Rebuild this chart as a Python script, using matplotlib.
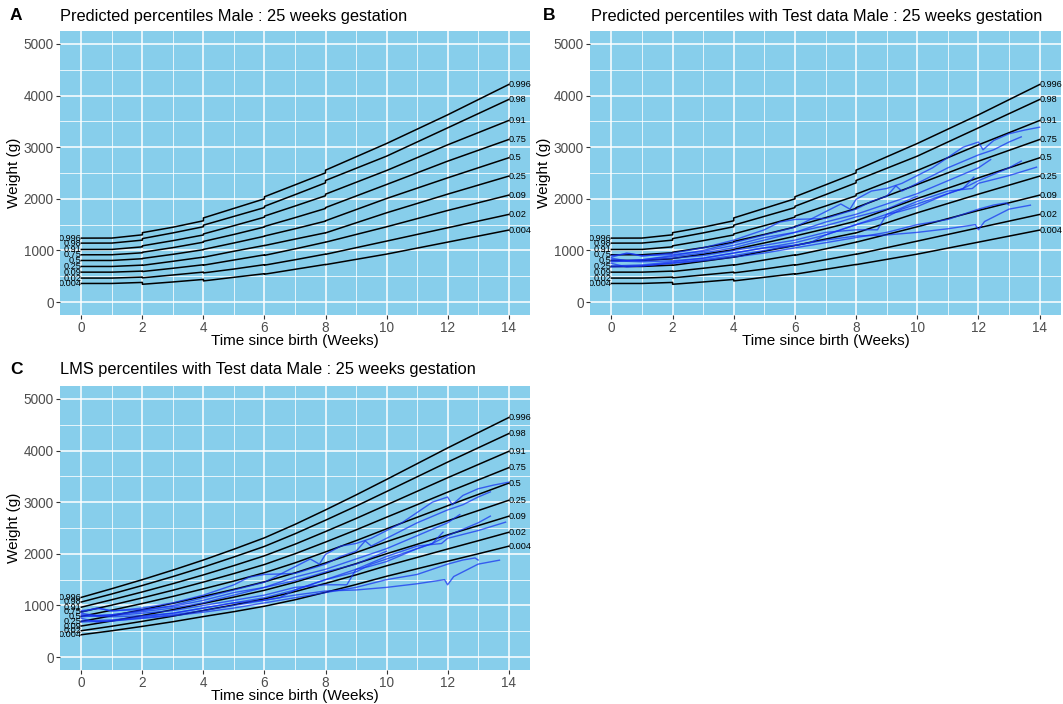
import matplotlib
matplotlib.use("Agg")
import matplotlib.pyplot as plt
from matplotlib.ticker import MultipleLocator

plt.rcParams["font.family"] = ["Liberation Sans", "DejaVu Sans"]

# ---------------- data ----------------
pct_labels = ["0.996", "0.98", "0.91", "0.75", "0.5", "0.25", "0.09", "0.02", "0.004"]

# predicted percentile curves (panels A and B); repeated weeks mark the small steps
pred_weeks = [0, 1, 2, 2, 3, 4, 4, 5, 6, 6, 7, 8, 8, 10, 12, 14]
pred_996 = [1239, 1240, 1303, 1345, 1450, 1575, 1630, 1815, 2000, 2040, 2270, 2503, 2555, 3071, 3626, 4213]
pred_98 = [1142, 1143, 1200, 1230, 1340, 1460, 1490, 1660, 1830, 1855, 2080, 2310, 2355, 2826, 3374, 3923]
pred_91 = [1019, 1020, 1070, 1090, 1190, 1300, 1320, 1480, 1645, 1665, 1860, 2060, 2090, 2548, 3045, 3516]
pred_75 = [916, 917, 955, 965, 1055, 1160, 1175, 1310, 1455, 1465, 1635, 1813, 1830, 2277, 2729, 3148]
pred_50 = [806, 806, 840, 845, 925, 1015, 1020, 1145, 1275, 1280, 1420, 1568, 1575, 2006, 2406, 2794]
pred_25 = [690, 690, 716, 712, 790, 871, 868, 985, 1097, 1095, 1220, 1342, 1340, 1729, 2090, 2439]
pred_09 = [580, 580, 600, 592, 655, 723, 715, 815, 915, 905, 1030, 1161, 1160, 1458, 1774, 2071]
pred_02 = [465, 465, 484, 470, 525, 581, 565, 640, 725, 715, 820, 929, 925, 1181, 1439, 1697]
pred_004 = [361, 361, 381, 345, 390, 439, 410, 480, 550, 540, 635, 729, 725, 929, 1161, 1394]

# LMS percentile curves (panel C)
lms_weeks = [0, 1, 2, 3, 4, 5, 6, 7, 8, 9, 10, 11, 12, 13, 14]
lms_996 = [1157, 1325, 1500, 1685, 1880, 2090, 2310, 2570, 2850, 3140, 3440, 3745, 4050, 4345, 4638]
lms_98 = [1067, 1223, 1387, 1560, 1743, 1939, 2144, 2388, 2651, 2923, 3206, 3491, 3776, 4052, 4327]
lms_91 = [967, 1111, 1262, 1422, 1592, 1772, 1962, 2186, 2431, 2684, 2947, 3210, 3473, 3728, 3983]
lms_75 = [875, 1007, 1147, 1295, 1453, 1618, 1793, 2001, 2228, 2463, 2709, 2951, 3194, 3430, 3667]
lms_50 = [788, 909, 1038, 1175, 1322, 1473, 1634, 1825, 2037, 2255, 2484, 2707, 2931, 3149, 3368]
lms_25 = [691, 801, 918, 1042, 1176, 1312, 1458, 1631, 1824, 2024, 2234, 2436, 2639, 2837, 3036]
lms_09 = [602, 700, 806, 918, 1040, 1162, 1294, 1450, 1627, 1809, 2002, 2184, 2367, 2546, 2727]
lms_02 = [511, 598, 693, 793, 903, 1011, 1128, 1268, 1427, 1592, 1768, 1930, 2093, 2253, 2416]
lms_004 = [433, 510, 595, 685, 785, 880, 985, 1110, 1255, 1405, 1565, 1710, 1856, 2000, 2147]

# test data: individual infants (weeks, weight g)
t1 = [0, 0.5, 1, 1.5, 2, 3, 4, 5, 6, 6.5, 7, 7.5, 7.8, 8, 8.5, 9, 9.5, 10, 10.5, 11, 11.5, 12, 12.15, 12.5, 13, 13.5, 14]
w1 = [850, 800, 820, 860, 900, 1000, 1150, 1300, 1450, 1600, 1750, 1900, 1800, 1990, 2150, 2200, 2300, 2450, 2600, 2800, 3000, 3100, 2950, 3130, 3260, 3330, 3387]
t2 = [0, 0.6, 1, 2, 3, 4, 4.5, 5, 5.5, 6, 7, 8, 8.5, 9, 9.3, 9.5, 10, 11, 12, 12.5, 13, 13.4]
w2 = [900, 940, 890, 950, 1050, 1200, 1300, 1400, 1550, 1600, 1620, 1800, 1950, 2050, 2250, 2150, 2300, 2600, 2850, 2950, 3100, 3200]
t3 = [0, 1, 2, 3, 4, 4.5, 5, 6, 7, 8, 9, 10, 11, 12, 12.4]
w3 = [780, 820, 880, 950, 1050, 1130, 1200, 1350, 1550, 1700, 1900, 2100, 2350, 2600, 2760]
t4 = [0, 1, 2, 3, 4, 5, 6, 7, 8, 9, 9.5, 10, 11, 11.5, 12, 13, 13.4]
w4 = [700, 720, 780, 850, 950, 1050, 1150, 1300, 1500, 1650, 1800, 1900, 2100, 2200, 2350, 2600, 2730]
t5 = [0, 0.5, 1, 2, 3, 4, 5, 6, 6.5, 7, 8, 9, 10, 11, 11.8, 12, 13, 13.9]
w5 = [750, 680, 700, 760, 820, 900, 1000, 1100, 1150, 1300, 1500, 1700, 1950, 2150, 2200, 2300, 2450, 2613]
t6 = [0, 1, 2, 3, 4, 5, 6, 7, 8, 8.7, 9, 9.4, 10, 11, 11.5, 11.85]
w6 = [820, 800, 850, 900, 1000, 1100, 1200, 1350, 1400, 1400, 1700, 1750, 1850, 2100, 2200, 2419]
t7 = [0, 1, 2, 3, 4, 5, 6, 7, 8, 9, 10, 11, 12, 12.5, 12.9, 13]
w7 = [680, 700, 750, 800, 870, 950, 1050, 1150, 1250, 1350, 1500, 1600, 1800, 1880, 1920, 1880]
t8 = [0, 1, 2, 3, 4, 5, 6, 7, 8, 9, 10, 11, 11.9, 12, 12.2, 13, 13.7]
w8 = [800, 780, 800, 850, 950, 1050, 1100, 1200, 1280, 1300, 1350, 1420, 1500, 1400, 1560, 1800, 1877]
t9 = [0, 0.5, 1, 2, 3, 4, 5, 6, 7, 7.5, 8, 9, 10]
w9 = [870, 950, 900, 920, 980, 1100, 1250, 1350, 1480, 1560, 1650, 1800, 2050]

x_ticks = [0, 2, 4, 6, 8, 10, 12, 14]
y_ticks = [0, 1000, 2000, 3000, 4000, 5000]

# ---------------- drawing ----------------
pred_curves = [pred_996, pred_98, pred_91, pred_75, pred_50, pred_25, pred_09, pred_02, pred_004]
lms_curves = [lms_996, lms_98, lms_91, lms_75, lms_50, lms_25, lms_09, lms_02, lms_004]
babies = [(t1, w1), (t2, w2), (t3, w3), (t4, w4), (t5, w5), (t6, w6), (t7, w7), (t8, w8), (t9, w9)]

W, H = 1063, 704
fig = plt.figure(figsize=(W / 100, H / 100), dpi=100)
fig.patch.set_facecolor("white")

PANEL = "#87CEEB"
TICKC = "#4D4D4D"


def make_ax(left, top, right, bottom):
    ax = fig.add_axes([left / W, 1 - bottom / H, (right - left) / W, (bottom - top) / H])
    ax.set_facecolor(PANEL)
    ax.set_xlim(-0.7, 14.7)
    ax.set_ylim(-250, 5250)
    ax.set_xticks(x_ticks)
    ax.set_yticks(y_ticks)
    ax.xaxis.set_minor_locator(MultipleLocator(1))
    ax.yaxis.set_minor_locator(MultipleLocator(500))
    ax.grid(which="major", color="white", lw=1.1)
    ax.grid(which="minor", color="white", lw=0.55)
    ax.set_axisbelow(True)
    for s in ax.spines.values():
        s.set_visible(False)
    ax.tick_params(which="major", length=3, width=0.8, color="#333333",
                   labelsize=9.8, labelcolor=TICKC, pad=1.5)
    ax.tick_params(which="minor", length=0)
    ax.set_xlabel("Time since birth (Weeks)", fontsize=11, labelpad=-1)
    ax.set_ylabel("Weight (g)", fontsize=11, labelpad=2)
    return ax


def draw_curves(ax, weeks, curves):
    for lab, c in zip(pct_labels, curves):
        ax.plot(weeks, c, color="black", lw=1.1, zorder=3)
        ax.text(weeks[-1], c[-1], lab, fontsize=6.6, ha="left", va="center",
                clip_on=False, zorder=4)
        ax.text(weeks[0], c[0], lab, fontsize=6.6, ha="right", va="center",
                clip_on=True, zorder=4)


def draw_babies(ax):
    for t, w in babies:
        ax.plot(t, w, color="#1530F0", lw=1.0, alpha=0.72, zorder=3.5)


axA = make_ax(60, 31, 530, 315)
draw_curves(axA, pred_weeks, pred_curves)

axB = make_ax(590, 31, 1061, 315)
draw_curves(axB, pred_weeks, pred_curves)
draw_babies(axB)

axC = make_ax(60, 386, 530, 670)
draw_curves(axC, lms_weeks, lms_curves)
draw_babies(axC)

fig.text(10 / W, 1 - 16 / H, "A", fontsize=12.5, fontweight="bold", va="center")
fig.text(60 / W, 1 - 16 / H, "Predicted percentiles Male : 25 weeks gestation",
         fontsize=11.8, va="center")
fig.text(543 / W, 1 - 16 / H, "B", fontsize=12.5, fontweight="bold", va="center")
fig.text(591 / W, 1 - 16 / H, "Predicted percentiles with Test data Male : 25 weeks gestation",
         fontsize=11.8, va="center")
fig.text(10 / W, 1 - 370 / H, "C", fontsize=12.5, fontweight="bold", va="center")
fig.text(60 / W, 1 - 370 / H, "LMS percentiles with Test data Male : 25 weeks gestation",
         fontsize=11.8, va="center")

fig.savefig("out.png", dpi=100)
